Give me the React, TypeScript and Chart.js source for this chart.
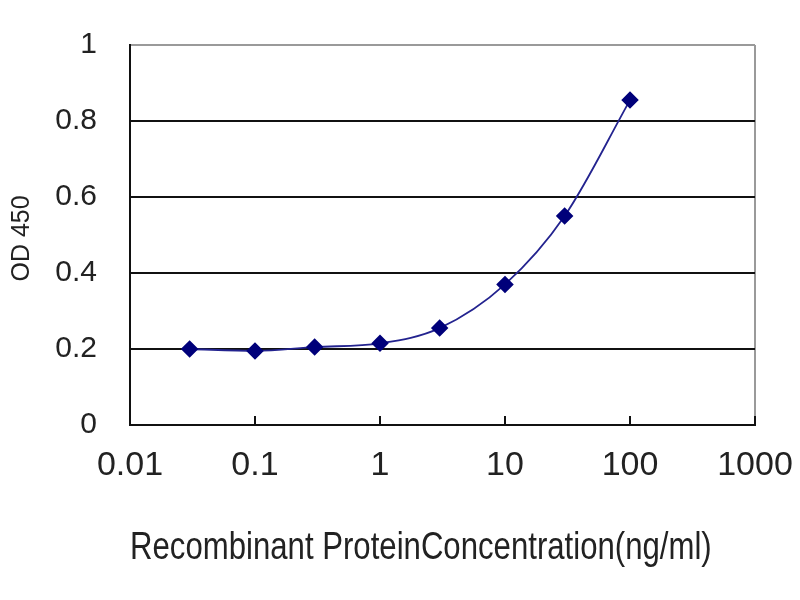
import React, { useEffect, useRef } from "react";
import { Chart, registerables } from "chart.js";

Chart.register(...registerables);

const concentrations = [0.03, 0.1, 0.3, 1, 3, 10, 30, 100];
const odValues = [0.2, 0.195, 0.205, 0.215, 0.255, 0.37, 0.55, 0.855];
const xTickValues = [0.01, 0.1, 1, 10, 100, 1000];
const yTickValues = [0, 0.2, 0.4, 0.6, 0.8, 1];
const xTitle = "Recombinant ProteinConcentration(ng/ml)     ";
const yTitle = "OD 450 ";

const FONT = "'Liberation Sans', Arial, sans-serif";

const innerTicks = {
  id: "innerTicks",
  beforeDatasetsDraw(chart: any) {
    const x = chart.scales.x;
    const bottom = chart.chartArea.bottom;
    const ctx = chart.ctx;
    ctx.save();
    ctx.strokeStyle = "#111";
    ctx.lineWidth = 2;
    xTickValues.slice(1).forEach((v) => {
      const px = x.getPixelForValue(v);
      ctx.beginPath();
      ctx.moveTo(px, bottom);
      ctx.lineTo(px, bottom - 9);
      ctx.stroke();
    });
    ctx.restore();
  },
};

export default function App() {
  const ref = useRef<HTMLCanvasElement | null>(null);

  useEffect(() => {
    if (!ref.current) return;
    const chart = new Chart(ref.current, {
      type: "scatter",
      data: {
        datasets: [
          {
            data: concentrations.map((c, i) => ({ x: c, y: odValues[i] })),
            showLine: true,
            borderColor: "#23238f",
            borderWidth: 1.8,
            cubicInterpolationMode: "monotone",
            pointStyle: "rectRot",
            pointRadius: 7.5,
            pointBackgroundColor: "#00007a",
            pointBorderColor: "#00007a",
          },
        ],
      },
      options: {
        animation: false,
        responsive: false,
        devicePixelRatio: 1,
        layout: { padding: { top: 45, right: 45, left: 0, bottom: 0 } },
        plugins: { legend: { display: false }, tooltip: { enabled: false } },
        scales: {
          x: {
            type: "logarithmic",
            min: 0.01,
            max: 1000,
            afterBuildTicks: (s: any) => {
              s.ticks = xTickValues.map((v) => ({ value: v }));
            },
            afterFit: (s: any) => {
              s.height = 175;
              s.paddingLeft = 0;
              s.paddingRight = 0;
            },
            ticks: {
              autoSkip: false,
              maxRotation: 0,
              padding: 20,
              color: "#222",
              font: { family: FONT, size: 34 },
              callback: (v: any) => String(v),
            },
            grid: {
              drawTicks: false,
              lineWidth: 2,
              color: (ctx: any) =>
                ctx.tick && ctx.tick.value === 1000 ? "#9a9a9a" : "rgba(0,0,0,0)",
            },
            border: { color: "#111", width: 2 },
            title: {
              display: true,
              text: xTitle,
              color: "#222",
              font: { family: FONT, size: 38 },
              padding: { top: 0, bottom: 29 },
            },
          },
          y: {
            type: "linear",
            min: 0,
            max: 1,
            afterBuildTicks: (s: any) => {
              s.ticks = yTickValues.map((v) => ({ value: v }));
            },
            afterFit: (s: any) => {
              s.width = 130;
              s.paddingTop = 0;
              s.paddingBottom = 0;
            },
            ticks: {
              padding: 33,
              color: "#222",
              font: { family: FONT, size: 30 },
              callback: (v: any) => String(v),
            },
            grid: {
              drawTicks: false,
              lineWidth: 2,
              color: (ctx: any) => {
                const v = ctx.tick ? ctx.tick.value : null;
                if (v === 0) return "rgba(0,0,0,0)";
                if (v === 1) return "#9a9a9a";
                return "#111";
              },
            },
            border: { color: "#111", width: 2 },
            title: {
              display: true,
              text: yTitle,
              color: "#222",
              font: { family: FONT, size: 25 },
              padding: { top: 7, bottom: 0 },
            },
          },
        },
      },
      plugins: [innerTicks],
    } as any);
    return () => chart.destroy();
  }, []);

  return (
    <div style={{ position: "absolute", left: 0, top: 0, width: 800, height: 600, background: "#fff" }}>
      <canvas ref={ref} width={800} height={600} />
    </div>
  );
}
